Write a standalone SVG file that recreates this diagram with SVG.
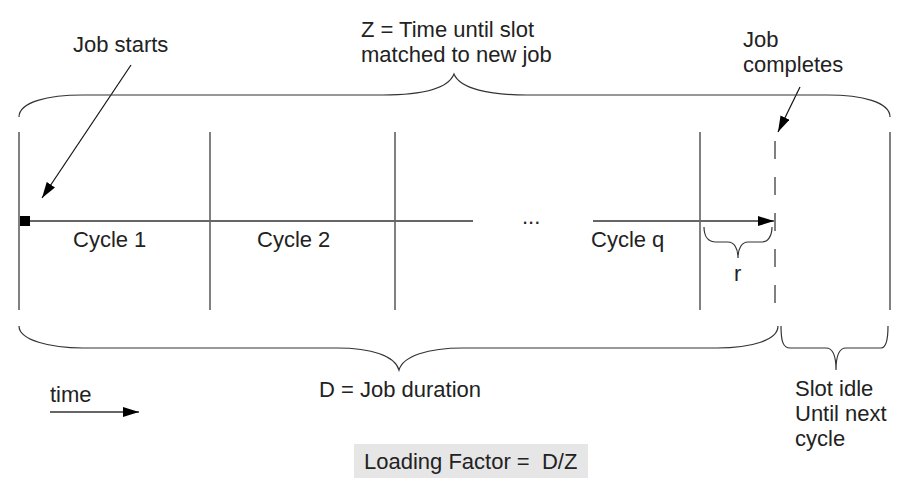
<svg xmlns="http://www.w3.org/2000/svg" width="904" height="496" viewBox="0 0 904 496">
<defs>
<style>
text{font-family:"Liberation Sans",Arial,sans-serif;font-size:22px;fill:#222;white-space:pre}
.grid{stroke:#808080;stroke-width:2;fill:none}
.brace{stroke:#333;stroke-width:1.2;fill:none}
.axis{stroke:#666;stroke-width:2;fill:none}
.ptr{stroke:#111;stroke-width:1.2;fill:none}
</style>
<marker id="ah" viewBox="0 0 16 10" refX="16" refY="5" markerWidth="16" markerHeight="10" markerUnits="userSpaceOnUse" orient="auto">
<path d="M0,0 L16,5 L0,10 z" fill="#000"/>
</marker>
</defs>
<rect width="904" height="496" fill="#fff"/>
<g id="grid">
<line class="grid" x1="19" y1="132" x2="19" y2="310"/>
<line class="grid" x1="210" y1="132" x2="210" y2="310"/>
<line class="grid" x1="395" y1="132" x2="395" y2="310"/>
<line class="grid" x1="700" y1="132" x2="700" y2="310"/>
<line class="grid" x1="775" y1="141" x2="775" y2="310" stroke-dasharray="18 18"/>
<line class="grid" x1="890" y1="132" x2="890" y2="310"/>
</g>
<g id="connectors">
<line class="axis" x1="25" y1="221" x2="473" y2="221"/>
<line class="axis" x1="593" y1="221" x2="774" y2="221" marker-end="url(#ah)"/>
<line class="ptr" x1="131" y1="65" x2="42" y2="198" marker-end="url(#ah)"/>
<line class="ptr" x1="800" y1="87" x2="778" y2="132" marker-end="url(#ah)"/>
<line class="axis" x1="50" y1="412" x2="139" y2="412" marker-end="url(#ah)"/>
</g>
<g id="start-marker"><rect x="20" y="216" width="10" height="10" fill="#000"/></g>
<g id="brace-z"><path class="brace" d="M19,117 C19,102 48,95 83,95 L383,95 C420,95 448,89 454,74 C460,89 490,95 527,95 L827,95 C862,95 890,102 890,117"/></g>
<g id="brace-d"><path class="brace" d="M19,326 C19,340 50,348 83,348 L337,348 C372,348 395,356 399,370 C403,356 428,348 463,348 L717,348 C752,348 778,340 778,326"/></g>
<g id="brace-idle"><path class="brace" d="M781,326 C781,341 783,348 790,348 L826,348 C832,348 836,355 836,370 C836,355 840,348 846,348 L881,348 C886,348 888,341 888,326"/></g>
<g id="brace-r"><path class="brace" d="M704,227 C704,236 708,242 716,242 L728,242 C734,242 738,248 738,258 C738,248 742,242 748,242 L762,242 C768,242 772,236 772,227"/></g>
<g id="labels">
<text x="73" y="52">Job starts</text>
<text x="361" y="37">Z = Time until slot</text>
<text x="361" y="62">matched to new job</text>
<text x="743" y="47">Job</text>
<text x="743" y="72">completes</text>
<text x="73" y="247">Cycle 1</text>
<text x="257" y="247">Cycle 2</text>
<text x="522" y="224">...</text>
<text x="591" y="247">Cycle q</text>
<text x="734" y="281">r</text>
<text x="319" y="397">D = Job duration</text>
<text x="50" y="402">time</text>
<text x="795" y="396">Slot idle</text>
<text x="795" y="421">Until next</text>
<text x="795" y="446">cycle</text>
</g>
<g id="loading-factor">
<rect x="354" y="444" width="234" height="34" fill="#e6e6e6"/>
<text x="364" y="469">Loading Factor =  D/Z</text>
</g>
</svg>
